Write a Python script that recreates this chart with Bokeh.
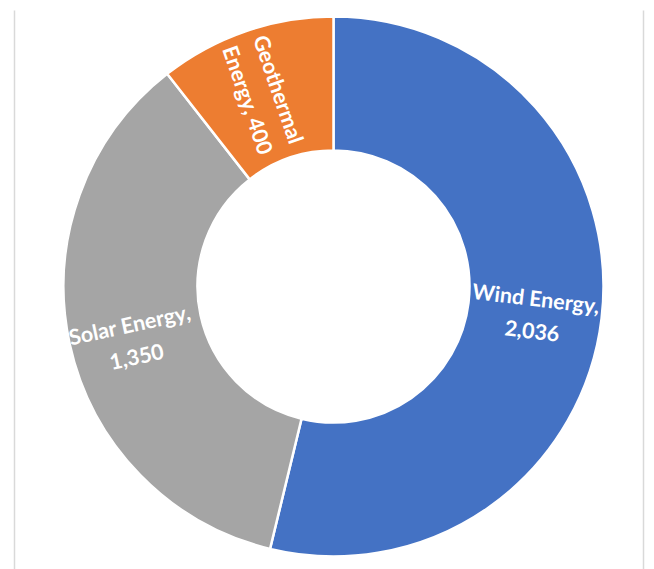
import math
from bokeh.plotting import figure
from bokeh.models import Range1d, ColumnDataSource
from bokeh.core.properties import value
from bokeh.embed import file_html
from bokeh.resources import INLINE

# data
categories = ["Wind Energy", "Solar Energy", "Geothermal Energy"]
values = [2036, 1350, 400]
colors = ["#4472C4", "#A5A5A5", "#ED7D31"]
label_texts = ["Wind Energy,\n2,036", "Solar Energy,\n1,350", "Geothermal\nEnergy, 400"]

W, H = 654, 569
cx, cy = 333, H - 286
r_out, r_in = 270, 136

total = float(sum(values))
starts, ends, mids = [], [], []
acc = 0.0
for v in values:
    a0 = math.pi / 2 - 2 * math.pi * acc / total
    acc += v
    a1 = math.pi / 2 - 2 * math.pi * acc / total
    starts.append(a0)
    ends.append(a1)
    mids.append((a0 + a1) / 2)

src = ColumnDataSource(dict(cat=categories, val=values, color=colors,
                            start=starts, end=ends))

p = figure(width=W, height=H, output_backend="svg", toolbar_location=None,
           x_range=Range1d(0, W), y_range=Range1d(0, H),
           min_border=0, background_fill_color="white", border_fill_color="white")
p.axis.visible = False
p.grid.visible = False
p.outline_line_color = None

# light frame lines
p.segment(x0=[14, 643], y0=[0, 0], x1=[14, 643], y1=[H - 10, H - 10],
          line_color="#D9D9D9", line_width=1.5)

p.annular_wedge(x=cx, y=cy, inner_radius=r_in, outer_radius=r_out,
                start_angle="start", end_angle="end", direction="clock",
                fill_color="color", line_color="white", line_width=2.5, source=src)

# labels: centred in the ring at each slice's mid angle, rotated radially
r_mid = (r_in + r_out) / 2
nudge = [(-1, -4), (-2, -11), (-4, 0)]
lx, ly, lang = [], [], []
for i, m in enumerate(mids):
    x = cx + r_mid * math.cos(m) + nudge[i][0]
    y = cy + r_mid * math.sin(m) + nudge[i][1]
    ang = m
    # keep text readable
    while ang > math.pi / 2:
        ang -= math.pi
    while ang < -math.pi / 2:
        ang += math.pi
    lx.append(x)
    ly.append(y)
    lang.append(ang)

p.text(x=lx, y=ly, text=label_texts, angle=lang,
       text_font=value("Lato"), text_font_style="bold", text_font_size="21.5px",
       text_color="white", text_align="center", text_baseline="middle",
       text_line_height=1.25)

open("out.html", "w").write(file_html(p, INLINE))
